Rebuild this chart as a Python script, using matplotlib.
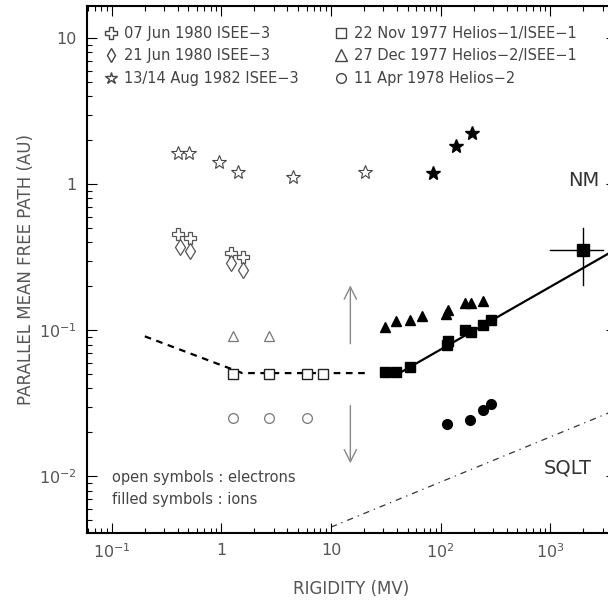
import matplotlib
matplotlib.use("Agg")
import matplotlib.pyplot as plt
from matplotlib.lines import Line2D

# values (rigidity in MV, mean free path in AU)
cross_x = [0.40, 0.52, 1.23, 1.58]
cross_y = [0.46, 0.43, 0.34, 0.32]
diam_x = [0.42, 0.52, 1.23, 1.58]
diam_y = [0.37, 0.35, 0.29, 0.26]
star_open_x = [0.40, 0.51, 0.95, 1.42, 4.5, 20.5]
star_open_y = [1.63, 1.63, 1.42, 1.21, 1.12, 1.21]
star_fill_x = [85, 138, 194]
star_fill_y = [1.19, 1.82, 2.24]

sq_open_x = [1.28, 2.72, 6.05, 8.47]
sq_open_y = [0.050, 0.050, 0.050, 0.050]
tri_open_x = [1.28, 2.72]
tri_open_y = [0.091, 0.091]
circ_open_x = [1.28, 2.72, 6.05]
circ_open_y = [0.025, 0.025, 0.025]

sq_fill_x = [31, 39, 52, 115, 117, 167, 190, 245, 290]
sq_fill_y = [0.052, 0.052, 0.056, 0.079, 0.084, 0.100, 0.097, 0.108, 0.117]
tri_fill_x = [31, 39, 52, 68, 113, 117, 167, 190, 245]
tri_fill_y = [0.106, 0.115, 0.117, 0.125, 0.130, 0.138, 0.153, 0.153, 0.158]
circ_fill_x = [115, 186, 245, 290]
circ_fill_y = [0.0227, 0.0245, 0.0283, 0.0311]

nm_x, nm_y = 2000, 0.353
nm_x_range = [1000, 3040]
nm_y_range = [0.203, 0.50]

electron_fit_x = [0.2, 1.55, 21]
electron_fit_y = [0.091, 0.051, 0.051]
ion_fit_x = [44, 4000]
ion_fit_y = [0.052, 0.36]
sqlt_x = [10, 4000]
sqlt_y = [0.0045, 0.0286]

x_ticks = [0.1, 1, 10, 100, 1000]
x_labels = ["$10^{-1}$", "1", "10", "$10^{2}$", "$10^{3}$"]
y_ticks = [0.01, 0.1, 1, 10]
y_labels = ["$10^{-2}$", "$10^{-1}$", "1", "10"]

legend_labels = ["07 Jun 1980 ISEE\u22123", "21 Jun 1980 ISEE\u22123",
                 "13/14 Aug 1982 ISEE\u22123", "22 Nov 1977 Helios\u22121/ISEE\u22121",
                 "27 Dec 1977 Helios\u22122/ISEE\u22121", "11 Apr 1978 Helios\u22122"]

TXT = "#444444"
plt.rcParams["font.family"] = "DejaVu Sans"
plt.rcParams["mathtext.fontset"] = "dejavusans"

fig = plt.figure(figsize=(6.08, 6.05), dpi=100)
ax = fig.add_axes([0.1426, 0.119, 0.871, 0.871])
ax.set_xscale("log")
ax.set_yscale("log")
ax.set_xlim(0.059, 4000)
ax.set_ylim(0.0041, 16.6)

# fits
ax.plot(electron_fit_x, electron_fit_y, ls=(0, (3, 2.5)), color="black", lw=1.6, zorder=1)
ax.plot(ion_fit_x, ion_fit_y, ls="-", color="black", lw=1.6, zorder=1)
ax.plot(sqlt_x, sqlt_y, ls=(0, (5, 4, 1, 4)), color="#333333", lw=0.9, zorder=1)

# open symbols (electrons)
ax.plot(cross_x, cross_y, "P", ms=9, mfc="white", mec="#555555", mew=0.9, ls="none")
ax.plot(diam_x, diam_y, "d", ms=8, mfc="white", mec="#555555", mew=0.9, ls="none")
ax.plot(star_open_x, star_open_y, "*", ms=10.5, mfc="white", mec="#444444", mew=0.8, ls="none")
ax.plot(sq_open_x, sq_open_y, "s", ms=6.5, mfc="white", mec="#222222", mew=1.0, ls="none", zorder=3)
ax.plot(tri_open_x, tri_open_y, "^", ms=7.5, mfc="white", mec="#777777", mew=0.9, ls="none")
ax.plot(circ_open_x, circ_open_y, "o", ms=7, mfc="white", mec="#777777", mew=0.9, ls="none")

# filled symbols (ions)
ax.plot(star_fill_x, star_fill_y, "*", ms=10, color="black", ls="none")
ax.plot(sq_fill_x, sq_fill_y, "s", ms=6.5, color="black", ls="none", zorder=3)
ax.plot(tri_fill_x, tri_fill_y, "^", ms=7.5, color="black", ls="none")
ax.plot(circ_fill_x, circ_fill_y, "o", ms=7, color="black", ls="none")

# neutron monitor point with ranges
ax.plot(nm_x_range, [nm_y, nm_y], color="black", lw=1)
ax.plot([nm_x, nm_x], nm_y_range, color="black", lw=1)
ax.plot([nm_x], [nm_y], "s", ms=8, color="black")
ax.text(nm_x, 1.06, "NM", ha="center", va="center", fontsize=14, color="#333333")
ax.text(1430, 0.0115, "SQLT", ha="center", va="center", fontsize=14, color="#333333")

# arrows
ax.annotate("", xy=(15, 0.203), xytext=(15, 0.081),
            arrowprops=dict(arrowstyle="->", color="#888888", lw=1, mutation_scale=22, shrinkA=0, shrinkB=0))
ax.annotate("", xy=(15, 0.0123), xytext=(15, 0.0306),
            arrowprops=dict(arrowstyle="->", color="#888888", lw=1, mutation_scale=22, shrinkA=0, shrinkB=0))

ax.text(0.048, 0.106, "open symbols : electrons", transform=ax.transAxes,
        fontsize=10.5, color=TXT, va="center")
ax.text(0.048, 0.063, "filled symbols : ions", transform=ax.transAxes,
        fontsize=10.5, color=TXT, va="center")

# legend
handles = [
    Line2D([], [], marker="P", ms=8, mfc="white", mec="#444444", ls="none"),
    Line2D([], [], marker="d", ms=7, mfc="white", mec="#444444", ls="none"),
    Line2D([], [], marker="*", ms=9, mfc="white", mec="#444444", ls="none"),
    Line2D([], [], marker="s", ms=7, mfc="white", mec="#444444", ls="none"),
    Line2D([], [], marker="^", ms=8, mfc="white", mec="#444444", ls="none"),
    Line2D([], [], marker="o", ms=7, mfc="white", mec="#444444", ls="none"),
]
leg = ax.legend(handles, legend_labels, ncol=2, loc="upper left",
                bbox_to_anchor=(0.035, 0.962), frameon=False, fontsize=10.5,
                handlelength=0.8, handletextpad=0.5, columnspacing=2.5,
                labelspacing=0.5, borderpad=0, borderaxespad=0)
for t in leg.get_texts():
    t.set_color(TXT)

ax.set_xticks(x_ticks)
ax.set_xticklabels(x_labels)
ax.set_yticks(y_ticks)
ax.set_yticklabels(y_labels)
ax.tick_params(which="both", direction="in", top=True, right=True, colors="black",
               labelcolor="#555555", labelsize=11.5, width=0.8)
ax.tick_params(which="major", length=7.5)
ax.tick_params(which="minor", length=3.5)
ax.tick_params(axis="x", pad=7)
ax.tick_params(axis="y", pad=7)
for s in ax.spines.values():
    s.set_linewidth(1.5)

ax.set_xlabel("RIGIDITY (MV)", fontsize=12, color="#555555")
ax.set_ylabel("PARALLEL MEAN FREE PATH (AU)", fontsize=12, color="#555555")
ax.xaxis.set_label_coords(0.5, -0.089)
ax.yaxis.set_label_coords(-0.097, 0.5)

fig.savefig("out.png", dpi=100)
